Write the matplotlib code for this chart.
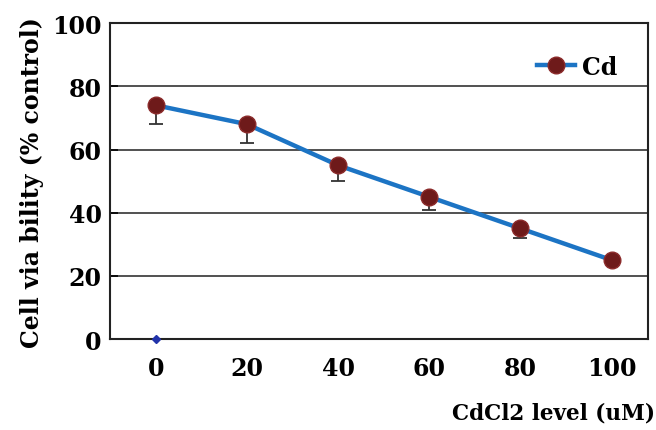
import matplotlib
matplotlib.use("Agg")
import matplotlib.pyplot as plt

dose = [0, 20, 40, 60, 80, 100]
viability = [74, 68, 55, 45, 35, 25]
err_low = [6, 6, 5, 4, 3, 1]
yticks = [0, 20, 40, 60, 80, 100]

plt.rcParams["font.family"] = ["DejaVu Serif"]
plt.rcParams["font.weight"] = "bold"

fig = plt.figure(figsize=(6.56, 4.31), dpi=100)
ax = fig.add_axes([0.168, 0.211, 0.82, 0.733])

ax.errorbar(dose, viability, yerr=[err_low, [0] * len(err_low)], fmt="none",
            ecolor="#333333", elinewidth=1.3, capsize=5, capthick=1.3, zorder=2)
ax.plot(dose, viability, color="#1C74C4", lw=3.2, marker="o", ms=12,
        mfc="#6E1A1A", mec="#8B2A2A", label="Cd", zorder=3)
ax.plot([0], [0], marker="D", ms=4, color="#2233AA", ls="none", zorder=5, clip_on=False)

ax.set_xlim(-10, 108)
ax.set_ylim(0, 100)
ax.set_yticks(yticks)
ax.set_xticks(dose)
ax.grid(axis="y", color="#333333", lw=1.2)
ax.tick_params(axis="x", length=0, pad=12, labelsize=17)
ax.tick_params(axis="y", length=6, width=1.2, direction="in", labelsize=17, pad=6)
for s in ax.spines.values():
    s.set_linewidth(1.5)
    s.set_color("#222222")
for t in ax.get_xticklabels() + ax.get_yticklabels():
    t.set_fontweight("bold")

ax.set_ylabel("Cell via bility (% control)", fontsize=17, fontweight="bold", labelpad=6)
fig.text(0.998, 0.04, "CdCl2 level (uM)", ha="right", va="center", fontsize=15.5, fontweight="bold")

leg = ax.legend(loc="upper right", bbox_to_anchor=(0.96, 0.93), frameon=False, fontsize=17,
                handlelength=1.6, borderaxespad=0.0, handletextpad=0.3)

fig.savefig("out.png", dpi=100)
